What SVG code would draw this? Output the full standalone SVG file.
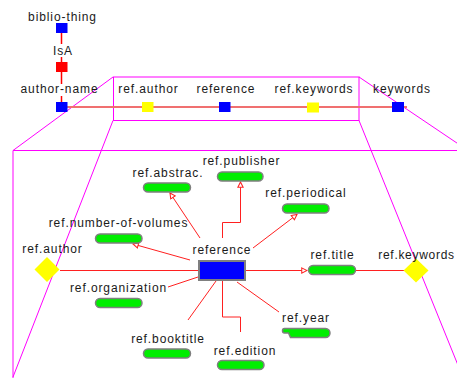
<svg xmlns="http://www.w3.org/2000/svg" width="457" height="378" viewBox="0 0 457 378">
<defs>
<style>
text{font-family:"Liberation Sans",Arial,sans-serif;font-size:12px;letter-spacing:0.9px;fill:#1a1a1a;text-anchor:middle}
.mag{stroke:#ff00ff;stroke-width:1;fill:none}
.c{stroke:#ff2020;stroke-width:1;fill:none}
.pill{fill:#00ee00;stroke:#7f7f7f;stroke-width:1.5}
.blue{fill:#0000ff}
.yel{fill:#ffff00}
</style>
<marker id="ah" viewBox="0 0 8 8" refX="7" refY="4" markerWidth="7" markerHeight="7" markerUnits="userSpaceOnUse" orient="auto">
<path d="M1,1 L7,4 L1,7 Z" fill="#fff" stroke="#ff2020" stroke-width="1.2"/>
</marker>
</defs>
<rect width="457" height="378" fill="#fff"/>

<g id="lens">
<rect class="mag" x="113.5" y="77" width="245.5" height="43.5" stroke-width="1.3"/>
<line class="mag" x1="113" y1="77" x2="13" y2="150.5"/>
<line class="mag" x1="113" y1="120.5" x2="13" y2="377"/>
<line class="mag" x1="359" y1="77" x2="468" y2="150.5"/>
<line class="mag" x1="359" y1="120.5" x2="466" y2="385"/>
<line class="mag" x1="13" y1="150.5" x2="457" y2="150.5"/>
<line class="mag" x1="13" y1="150.5" x2="13" y2="378"/>
</g>

<g id="connectors">
<line x1="61.5" y1="33" x2="61.5" y2="44" stroke="#ff0000" stroke-width="1.5"/>
<line x1="61.5" y1="57" x2="61.5" y2="62" stroke="#ff0000" stroke-width="1.5"/>
<line x1="61.5" y1="72" x2="61.5" y2="84" stroke="#ff0000" stroke-width="1.5"/>
<line x1="61.5" y1="96" x2="61.5" y2="102" stroke="#ff0000" stroke-width="1.5"/>
<line x1="61" y1="107" x2="407" y2="107" stroke="#f07070" stroke-width="2"/>

<polyline class="c" points="222.5,238 222.5,222.5 240.5,222.5 240.5,182" marker-end="url(#ah)"/>
<line class="c" x1="200" y1="238" x2="170" y2="193" marker-end="url(#ah)"/>
<line class="c" x1="190" y1="260" x2="133" y2="244" marker-end="url(#ah)"/>
<line class="c" x1="253" y1="248" x2="297" y2="214.5" marker-end="url(#ah)"/>
<line class="c" x1="246" y1="270.5" x2="307" y2="270.5" marker-end="url(#ah)"/>
<line class="c" x1="356" y1="270.5" x2="404" y2="270.5"/>
<line class="c" x1="60" y1="270.5" x2="198" y2="270.5"/>
<line class="c" x1="198" y1="277" x2="168" y2="287"/>
<line class="c" x1="216" y1="281" x2="188" y2="320"/>
<polyline class="c" points="222.5,281 222.5,317 240.5,317 240.5,332"/>
<line class="c" x1="237" y1="282" x2="279" y2="312"/>
</g>

<g id="biblio-thing">
<rect class="blue" x="56" y="23" width="11.5" height="10"/>
<text x="62.5" y="21">biblio-thing</text>
</g>
<g id="isa">
<rect x="56" y="62" width="11.5" height="10" fill="#ff0000"/>
<text x="63" y="55">IsA</text>
</g>
<g id="author-name">
<rect class="blue" x="56" y="102" width="11.5" height="10"/>
<text x="59.5" y="93">author-name</text>
</g>
<g id="top-ref-author">
<rect class="yel" x="142" y="102" width="11.5" height="10"/>
<text x="148.5" y="93">ref.author</text>
</g>
<g id="top-reference">
<rect class="blue" x="219" y="102" width="11.5" height="10"/>
<text x="226" y="93">reference</text>
</g>
<g id="top-ref-keywords">
<rect class="yel" x="307" y="102.5" width="12" height="10"/>
<text x="314" y="93">ref.keywords</text>
</g>
<g id="keywords">
<rect class="blue" x="392" y="102" width="12" height="10"/>
<text x="402" y="93">keywords</text>
</g>

<g id="reference">
<rect x="199" y="261" width="46" height="19" fill="#0000ff" stroke="#7f7f7f" stroke-width="2"/>
<text x="222" y="254">reference</text>
</g>
<g id="ref-publisher">
<rect class="pill" x="217.5" y="172" width="45.5" height="9" rx="4.5"/>
<text x="241.5" y="165">ref.publisher</text>
</g>
<g id="ref-abstrac">
<rect class="pill" x="143.5" y="183" width="47" height="9" rx="4.5"/>
<text x="168" y="177">ref.abstrac.</text>
</g>
<g id="ref-periodical">
<rect class="pill" x="282.5" y="204" width="46.5" height="9" rx="4.5"/>
<text x="306" y="197">ref.periodical</text>
</g>
<g id="ref-number-of-volumes">
<rect class="pill" x="95.5" y="234" width="46.5" height="9" rx="4.5"/>
<text x="118.5" y="227">ref.number-of-volumes</text>
</g>
<g id="ref-author">
<polygon class="yel" points="47,257 59.5,269.5 47,282 34.5,269.5"/>
<text x="52.5" y="253">ref.author</text>
</g>
<g id="ref-title">
<rect class="pill" x="308.5" y="265.5" width="47" height="9" rx="4.5"/>
<text x="332.5" y="259">ref.title</text>
</g>
<g id="ref-keywords">
<polygon class="yel" points="416,258.5 428.5,270.5 416,282.5 403.5,270.5"/>
<text x="416.5" y="259" style="letter-spacing:0.7px">ref.keywords</text>
</g>
<g id="ref-organization">
<rect class="pill" x="95.5" y="298.5" width="46.5" height="9" rx="4.5"/>
<text x="118.5" y="292">ref.organization</text>
</g>
<g id="ref-booktitle">
<rect class="pill" x="143.5" y="349" width="47" height="9" rx="4.5"/>
<text x="168" y="343">ref.booktitle</text>
</g>
<g id="ref-edition">
<rect class="pill" x="217.5" y="360.5" width="46.5" height="9" rx="4.5"/>
<text x="245" y="355">ref.edition</text>
</g>
<g id="ref-year">
<path class="pill" d="M284.5,328.5 H325.5 A4.5,4.5 0 0 1 325.5,337.5 H290.5 L288.5,333 H284.5 Q282.5,333 282.5,330.7 Q282.5,328.5 284.5,328.5 Z"/>
<text x="306" y="322">ref.year</text>
</g>
</svg>
